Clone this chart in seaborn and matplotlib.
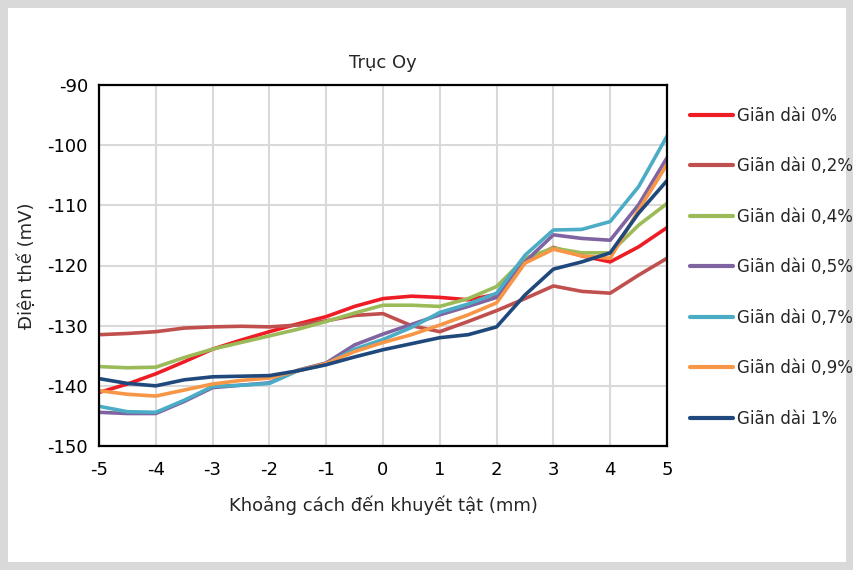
import pandas as pd
import numpy as np
import matplotlib
matplotlib.use("Agg")
import matplotlib.pyplot as plt
from matplotlib import font_manager
from matplotlib.patches import Rectangle
import seaborn as sns

# Data (every 0.5 mm)
distance = [-5, -4.5, -4, -3.5, -3, -2.5, -2, -1.5, -1, -0.5, 0,
            0.5, 1, 1.5, 2, 2.5, 3, 3.5, 4, 4.5, 5]

gian_0 = [-141.1, -139.7, -138.0, -136.0, -133.9, -132.4, -131.0, -129.7, -128.5, -126.8, -125.5,
          -125.1, -125.3, -125.7, -124.8, -119.4, -117.0, -118.4, -119.4, -116.9, -113.7]
gian_02 = [-131.5, -131.3, -131.0, -130.4, -130.2, -130.1, -130.2, -129.9, -129.2, -128.3, -128.0,
           -130.0, -131.0, -129.3, -127.5, -125.5, -123.4, -124.3, -124.6, -121.6, -118.8]
gian_04 = [-136.8, -137.0, -136.9, -135.3, -133.9, -132.8, -131.7, -130.6, -129.3, -127.9, -126.6,
           -126.6, -126.8, -125.5, -123.5, -118.8, -117.1, -117.9, -117.9, -113.3, -109.7]
gian_05 = [-144.4, -144.6, -144.6, -142.6, -140.3, -139.9, -139.5, -137.4, -136.2, -133.2, -131.4,
           -129.8, -128.2, -126.8, -125.3, -119.4, -114.9, -115.5, -115.8, -109.9, -102.1]
gian_07 = [-143.4, -144.3, -144.4, -142.4, -140.1, -139.9, -139.6, -137.5, -136.4, -133.9, -132.3,
           -130.3, -127.8, -126.4, -124.6, -118.3, -114.1, -114.0, -112.7, -106.9, -98.5]
gian_09 = [-140.8, -141.4, -141.7, -140.7, -139.7, -139.1, -138.7, -137.5, -136.3, -134.3, -132.8,
           -131.5, -129.9, -128.2, -126.2, -119.6, -117.3, -118.4, -118.8, -110.8, -103.2]
gian_1 = [-138.8, -139.6, -140.0, -139.0, -138.5, -138.4, -138.3, -137.5, -136.5, -135.2, -134.0,
          -133.0, -132.0, -131.5, -130.2, -124.9, -120.6, -119.4, -117.9, -111.3, -105.9]

labels = ["Giãn dài 0%", "Giãn dài 0,2%", "Giãn dài 0,4%", "Giãn dài 0,5%",
          "Giãn dài 0,7%", "Giãn dài 0,9%", "Giãn dài 1%"]
series = [gian_0, gian_02, gian_04, gian_05, gian_07, gian_09, gian_1]
colors = ["#EE1C25", "#C0504D", "#9BBB59", "#8064A2", "#4BACC6", "#F79646", "#1F497D"]

# Long-form table for seaborn
frames = []
for name, vals in zip(labels, series):
    frames.append(pd.DataFrame({"x": distance, "y": vals, "series": name}))
df = pd.concat(frames, ignore_index=True)

sns.set_style("white")
# narrow font if we have one (reference uses a condensed face)
installed = {f.name for f in font_manager.fontManager.ttflist}
if "Liberation Sans Narrow" in installed:
    plt.rcParams["font.family"] = ["Liberation Sans Narrow", "DejaVu Sans"]
    fs, lfs = 15, 14
else:
    plt.rcParams["font.family"] = ["DejaVu Sans"]
    fs, lfs = 13, 12
plt.rcParams["axes.unicode_minus"] = False

fig = plt.figure(figsize=(8.54, 5.70), dpi=100, facecolor="#d9d9d9")
# white panel inside the grey frame
fig.patches.append(Rectangle((8 / 854, 8 / 570), 838 / 854, 554 / 570,
                             transform=fig.transFigure, facecolor="white",
                             edgecolor="none", zorder=-5))
ax = fig.add_axes([99 / 854, 1 - 446 / 570, 568 / 854, 361 / 570])

sns.lineplot(data=df, x="x", y="y", hue="series", palette=colors,
             hue_order=labels, linewidth=2.6, ax=ax, legend=True)

ax.set_xlim(-5, 5)
ax.set_ylim(-150, -90)
ax.set_xticks(range(-5, 6))
ax.set_yticks(range(-150, -89, 10))
ax.grid(True, color="#d9d9d9", linewidth=1.5)
ax.set_axisbelow(True)
for sp in ax.spines.values():
    sp.set_color("black")
    sp.set_linewidth(1.6)
ax.tick_params(axis="both", labelsize=fs, length=0, colors="black")
ax.tick_params(axis="x", pad=11)
ax.tick_params(axis="y", pad=8)

ax.set_title("Trục Oy", fontsize=fs, pad=12)
ax.set_xlabel("Khoảng cách đến khuyết tật (mm)", fontsize=fs, labelpad=12)
ax.set_ylabel("Điện thế (mV)", fontsize=fs, labelpad=8)

handles, lbls = ax.get_legend_handles_labels()
for h in handles:
    h.set_linewidth(3)
ax.legend(handles, lbls, loc="upper left", bbox_to_anchor=(1.04, 0.94),
          frameon=False, fontsize=lfs, handlelength=2.6, handletextpad=0.25,
          labelspacing=1.95, borderaxespad=0, borderpad=0)

fig.savefig("out.png", dpi=100, facecolor=fig.get_facecolor())
